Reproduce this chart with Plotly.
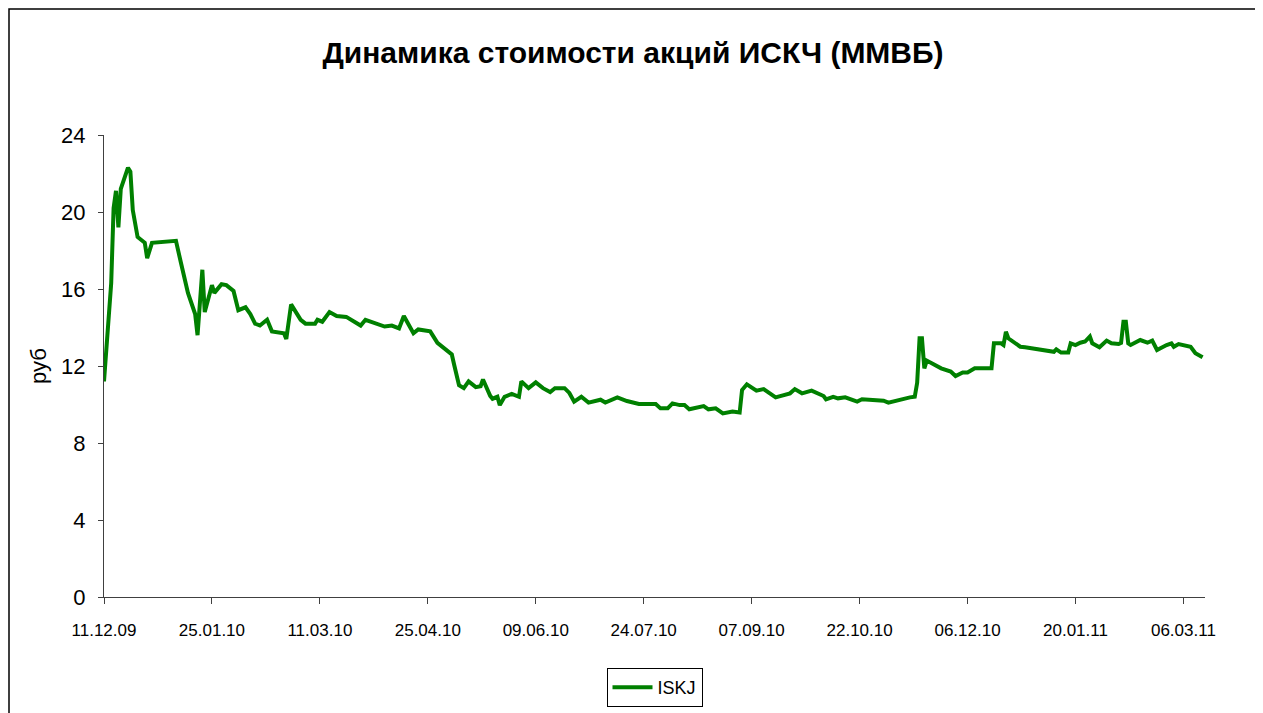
import pandas as pd
import plotly.graph_objects as go

# Days since 11.12.2009 and price in rubles
days = [0, 3, 4, 5, 6, 7, 10, 11, 12, 14, 17, 18, 20, 30, 32, 35, 38, 39, 41, 42,
        45, 46, 49, 51, 54, 56, 59, 61, 63, 65, 68, 70, 75, 76, 78, 79, 82, 84, 88, 89,
        91, 94, 97, 101, 104, 107, 109, 113, 117, 120, 123, 125, 127, 129, 131, 134, 136, 139, 141, 145,
        146, 148, 150, 152, 155, 157, 158, 161, 162, 164, 165, 167, 170, 173, 174, 177, 180, 183, 186, 188,
        192, 194, 196, 199, 202, 207, 209, 214, 218, 223, 230, 232, 235, 237, 240, 242, 244, 250, 252, 255,
        258, 262, 265, 266, 268, 272, 275, 280, 286, 288, 291, 295, 300, 301, 304, 306, 309, 314, 316, 325,
        327, 332, 336, 338, 339, 340, 341, 342, 343, 349, 353, 355, 358, 360, 363, 369, 370, 371, 374, 375,
        376, 377, 378, 380, 382, 384, 396, 397, 399, 402, 403, 405, 407, 409, 411, 412, 415, 418, 420, 423,
        424, 425, 426, 427, 428, 432, 435, 437, 439, 443, 445, 446, 448, 453, 455, 458]
price = [11.2, 16.3, 20.2, 21.1, 19.2, 21.2, 22.3, 22.1, 20.1, 18.7, 18.4, 17.6, 18.4, 18.5, 17.4, 15.8, 14.7, 13.6, 17.0, 14.8,
         16.2, 15.8, 16.25, 16.2, 15.9, 14.9, 15.05, 14.7, 14.2, 14.1, 14.4, 13.8, 13.7, 13.4, 15.2, 15.0, 14.4, 14.2, 14.2, 14.4,
         14.3, 14.8, 14.6, 14.55, 14.3, 14.1, 14.4, 14.25, 14.05, 14.1, 13.95, 14.6, 14.1, 13.7, 13.9, 13.85, 13.8, 13.2, 13.0, 12.6,
         12.05, 11.0, 10.85, 11.2, 10.9, 10.95, 11.3, 10.45, 10.3, 10.4, 9.97, 10.4, 10.55, 10.4, 11.2, 10.85, 11.15, 10.85, 10.65, 10.85,
         10.85, 10.6, 10.15, 10.4, 10.1, 10.25, 10.1, 10.37, 10.18, 10.03, 10.03, 9.8, 9.8, 10.06, 9.97, 9.97, 9.75, 9.92, 9.75, 9.8,
         9.54, 9.63, 9.58, 10.75, 11.05, 10.72, 10.8, 10.37, 10.58, 10.8, 10.58, 10.72, 10.44, 10.27, 10.4, 10.32, 10.37, 10.15, 10.27, 10.2,
         10.1, 10.27, 10.37, 10.4, 11.13, 13.44, 13.44, 11.88, 12.28, 11.88, 11.71, 11.48, 11.66, 11.66, 11.88, 11.88, 11.88, 13.18, 13.18, 13.09,
         13.78, 13.44, 13.35, 13.21, 13.0, 12.97, 12.74, 12.87, 12.7, 12.7, 13.18, 13.09, 13.21, 13.27, 13.53, 13.18, 12.97, 13.32, 13.18, 13.14,
         13.2, 14.3, 14.3, 13.18, 13.09, 13.35, 13.21, 13.32, 12.83, 13.09, 13.18, 13.0, 13.14, 13.0, 12.66, 12.45]

start_date = "2009-12-11"
tick_labels = ["11.12.09", "25.01.10", "11.03.10", "25.04.10", "09.06.10", "24.07.10",
               "07.09.10", "22.10.10", "06.12.10", "20.01.11", "06.03.11"]
y_ticks = [0, 4, 8, 12, 16, 20, 24]

dates = pd.to_datetime(start_date) + pd.to_timedelta(days, unit="D")
tick_dates = pd.to_datetime(tick_labels, format="%d.%m.%y")

FONT = "Liberation Sans Narrow, Arial Narrow, Liberation Sans, Arial, sans-serif"

W, H = 1255, 705
L, R, T, B = 96, 58, 127, 116
PW, PH = W - L - R, H - T - B

fig = go.Figure()
fig.add_trace(go.Scatter(
    x=dates, y=price, mode="lines", name="ISKJ",
    line=dict(color="#008000", width=4),
))

fig.update_layout(
    width=W, height=H,
    paper_bgcolor="white", plot_bgcolor="white",
    margin=dict(l=L, r=R, t=T, b=B, autoexpand=False),
    title=dict(text="<b>Динамика стоимости акций ИСКЧ (ММВБ)</b>",
               x=625 / W, xref="container", xanchor="center",
               y=1 - 44 / H, yref="container", yanchor="middle",
               font=dict(family=FONT, size=30, color="black")),
    font=dict(family=FONT, color="black"),
    showlegend=True,
    legend=dict(x=0.5, xanchor="center", y=-71 / PH, yanchor="top",
                orientation="h", bordercolor="black", borderwidth=1,
                bgcolor="white", font=dict(family=FONT, size=18, color="black"),
                itemwidth=40),
    xaxis=dict(
        range=[pd.to_datetime(start_date), pd.to_datetime(start_date) + pd.Timedelta(days=459)],
        tickvals=tick_dates, ticktext=tick_labels,
        showgrid=False, zeroline=False,
        showline=True, linecolor="#404040", linewidth=1,
        ticks="outside", ticklen=6, tickcolor="#404040",
        ticklabelstandoff=12,
        tickfont=dict(family=FONT, size=17, color="black"),
    ),
    yaxis=dict(
        range=[0, 24], tickvals=y_ticks,
        showgrid=False, zeroline=False,
        showline=True, linecolor="#404040", linewidth=1,
        ticks="outside", ticklen=5, tickcolor="#404040",
        ticklabelstandoff=8,
        tickfont=dict(family=FONT, size=22, color="black"),
        title=dict(text="руб", font=dict(family=FONT, size=22, color="black"), standoff=8),
    ),
)

# Outer chart-area frame
fig.add_shape(type="rect", xref="paper", yref="paper",
              x0=(1 - L) / PW, x1=(1249 - L) / PW,
              y0=-0.4, y1=(PH + T - 1) / PH,
              line=dict(color="black", width=1.5), fillcolor="rgba(0,0,0,0)",
              layer="below")

fig.write_html("out.html")
